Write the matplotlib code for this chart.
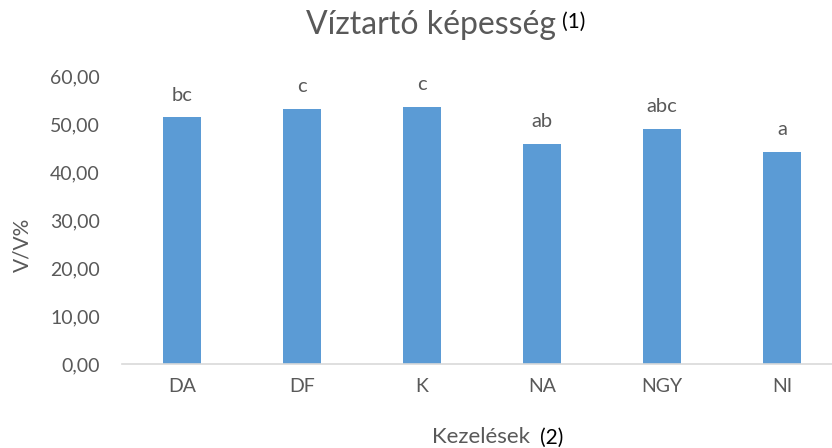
import matplotlib.pyplot as plt

plt.rcParams['font.family'] = ['Lato', 'DejaVu Sans']

# chart data
kezelesek = ['DA', 'DF', 'K', 'NA', 'NGY', 'NI']
viztarto = [51.4, 53.1, 53.6, 45.8, 49.0, 44.2]
betuk = ['bc', 'c', 'c', 'ab', 'abc', 'a']
y_ticks = [0, 10, 20, 30, 40, 50, 60]

BAR = '#5B9BD5'
GREY = '#595959'

fig = plt.figure(figsize=(8.32, 4.48), dpi=100)
# plot area runs slightly past the right edge, as in the source
ax = fig.add_axes([122 / 832, 84 / 448, 720 / 832, 288 / 448])

x = range(len(kezelesek))
ax.bar(x, viztarto, width=0.31, color=BAR, zorder=2)

for xi, val, lab in zip(x, viztarto, betuk):
    ax.annotate(lab, (xi, val), xytext=(0, 12), textcoords='offset points',
                ha='center', va='baseline', fontsize=14.5, color=GREY)

ax.set_xlim(-0.5, len(kezelesek) - 0.5)
ax.set_ylim(0, 60)
ax.set_xticks(list(x))
ax.set_xticklabels(kezelesek)
ax.set_yticks(y_ticks)
ax.set_yticklabels([f'{v:.2f}'.replace('.', ',') for v in y_ticks])
ax.tick_params(axis='both', length=0, labelsize=14, labelcolor=GREY)
ax.tick_params(axis='y', pad=16)
ax.tick_params(axis='x', pad=10)

for side in ['top', 'right', 'left']:
    ax.spines[side].set_visible(False)
ax.spines['bottom'].set_color('#D9D9D9')
ax.spines['bottom'].set_linewidth(1.2)

# title and axis titles, the numbered parts are black
fig.text(556 / 832, 1 - 25 / 448, 'Víztartó képesség', ha='right', va='center',
         fontsize=23, color=GREY)
fig.text(562 / 832, 1 - 22 / 448, '(1)', ha='left', va='center',
         fontsize=15, color='black')
fig.text(530 / 832, 1 - 437 / 448, 'Kezelések', ha='right', va='center',
         fontsize=16, color=GREY)
fig.text(540 / 832, 1 - 438 / 448, '(2)', ha='left', va='center',
         fontsize=15, color='black')
fig.text(22 / 832, 1 - 245 / 448, 'V/V%', rotation=90, ha='center', va='center',
         fontsize=15, color=GREY)

fig.savefig('out.png', dpi=100)
